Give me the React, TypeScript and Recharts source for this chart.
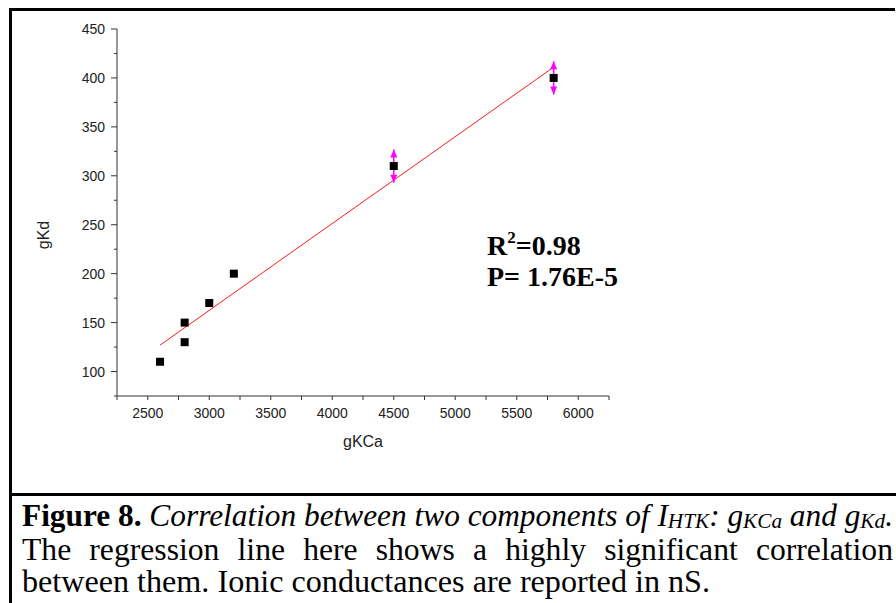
import { ScatterChart, Scatter, XAxis, YAxis, ErrorBar, Label } from 'recharts';

// measured points
const gKCa = [2600, 2800, 2800, 3000, 3200, 4500, 5800];
const gKd = [110, 130, 150, 170, 200, 310, 400];

// points that carry error bars
const errKCa = [4500, 5800];
const errKd = [310, 400];
const errSize = [17, 17];

// regression line ends
const fitKCa = [2600, 5800];
const fitKd = [127, 411];

const xTicks = [2250, 2500, 2750, 3000, 3250, 3500, 3750, 4000, 4250, 4500, 4750, 5000, 5250, 5500, 5750, 6000, 6250];
const xLabels = [2500, 3000, 3500, 4000, 4500, 5000, 5500, 6000];
const yTicks = [75, 100, 125, 150, 175, 200, 225, 250, 275, 300, 325, 350, 375, 400, 425, 450];
const yLabels = [100, 150, 200, 250, 300, 350, 400, 450];

const points = gKCa.map((x, i) => ({ x, y: gKd[i] }));
const errPoints = errKCa.map((x, i) => ({ x, y: errKd[i], err: errSize[i] }));
const arrowUp = errKCa.map((x, i) => ({ x, y: errKd[i] + errSize[i] }));
const arrowDown = errKCa.map((x, i) => ({ x, y: errKd[i] - errSize[i] }));
const fitLine = fitKCa.map((x, i) => ({ x, y: fitKd[i] }));

const TICK_SIZE = 6;
const TICK_MARGIN = 2;
const AXIS_FONT = '"Liberation Sans", Arial, sans-serif';
const SERIF = '"Liberation Serif", "Times New Roman", serif';
const MAGENTA = '#ff00ff';

function XTick(props: any) {
  const { x, y, payload } = props;
  const axisY = y - TICK_SIZE - TICK_MARGIN;
  const major = xLabels.includes(payload.value);
  return (
    <g>
      <line x1={x} x2={x} y1={axisY} y2={axisY + 4} stroke="#333" />
      {major && (
        <text x={x} y={axisY + 22} textAnchor="middle" fontSize={14} fill="#222" fontFamily={AXIS_FONT}>
          {payload.value}
        </text>
      )}
    </g>
  );
}

function YTick(props: any) {
  const { x, y, payload } = props;
  const axisX = x + TICK_SIZE + TICK_MARGIN;
  const major = yLabels.includes(payload.value);
  return (
    <g>
      <line x1={axisX - (major ? 6 : 3)} x2={axisX} y1={y} y2={y} stroke="#333" />
      {major && (
        <text x={axisX - 12} y={y + 5} textAnchor="end" fontSize={14} fill="#222" fontFamily={AXIS_FONT}>
          {payload.value}
        </text>
      )}
    </g>
  );
}

const Square = (p: any) => <rect x={p.cx - 4} y={p.cy - 4} width={8} height={8} fill="#000" />;
const UpHead = (p: any) => <path d={`M${p.cx},${p.cy} L${p.cx - 3.5},${p.cy + 8} L${p.cx + 3.5},${p.cy + 8} Z`} fill={MAGENTA} />;
const DownHead = (p: any) => <path d={`M${p.cx},${p.cy} L${p.cx - 3.5},${p.cy - 8} L${p.cx + 3.5},${p.cy - 8} Z`} fill={MAGENTA} />;
const NoDot = () => <g />;

export default function App() {
  return (
    <div style={{ position: 'fixed', left: 0, top: 0, width: 896, height: 603, background: '#fff', overflow: 'hidden' }}>
      {/* frame */}
      <div style={{ position: 'absolute', left: 9, top: 8, width: 886, height: 3, background: '#000' }} />
      <div style={{ position: 'absolute', left: 9, top: 8, width: 3, height: 595, background: '#000' }} />
      <div style={{ position: 'absolute', left: 9, top: 493, width: 887, height: 3, background: '#000' }} />

      <div style={{ position: 'absolute', left: 0, top: 0 }}>
        <ScatterChart width={896} height={603} margin={{ top: 29, right: 287, bottom: 177, left: 57 }}>
          <XAxis
            type="number"
            dataKey="x"
            domain={[2250, 6250]}
            ticks={xTicks}
            interval={0}
            allowDataOverflow
            height={30}
            tickSize={TICK_SIZE}
            tickMargin={TICK_MARGIN}
            tickLine={false}
            axisLine={{ stroke: '#333' }}
            tick={<XTick />}
          >
            <Label value="gKCa" position="bottom" offset={10} fontSize={16} fill="#222" fontFamily={AXIS_FONT} />
          </XAxis>
          <YAxis
            type="number"
            dataKey="y"
            domain={[75, 450]}
            ticks={yTicks}
            interval={0}
            allowDataOverflow
            width={60}
            tickSize={TICK_SIZE}
            tickMargin={TICK_MARGIN}
            tickLine={false}
            axisLine={{ stroke: '#333' }}
            tick={<YTick />}
          >
            <Label
              content={() => (
                <text x={49} y={235} transform="rotate(-90 49 235)" textAnchor="middle" fontSize={16} fill="#222" fontFamily={AXIS_FONT}>
                  gKd
                </text>
              )}
            />
          </YAxis>
          <Scatter data={fitLine} line={{ stroke: '#ff1a1a', strokeWidth: 1 }} shape={NoDot} isAnimationActive={false} />
          <Scatter data={errPoints} shape={NoDot} isAnimationActive={false}>
            <ErrorBar dataKey="err" direction="y" width={0} stroke={MAGENTA} strokeWidth={1.5} isAnimationActive={false} />
          </Scatter>
          <Scatter data={arrowUp} shape={UpHead} isAnimationActive={false} />
          <Scatter data={arrowDown} shape={DownHead} isAnimationActive={false} />
          <Scatter data={points} shape={Square} isAnimationActive={false} />
        </ScatterChart>
      </div>

      <svg width={896} height={603} style={{ position: 'absolute', left: 0, top: 0, pointerEvents: 'none' }}>
        <text x={487} y={255} fontFamily={SERIF} fontWeight="bold" fontSize={28} fill="#000">
          R<tspan fontSize={17} dy={-12}>2</tspan>
          <tspan dy={12}>=0.98</tspan>
        </text>
        <text x={487} y={286} fontFamily={SERIF} fontWeight="bold" fontSize={28} fill="#000">
          P= 1.76E-5
        </text>

        <text x={22} y={526} fontFamily={SERIF} fontSize={31} fill="#000" textLength={871} lengthAdjust="spacingAndGlyphs">
          <tspan fontWeight="bold">Figure 8. </tspan>
          <tspan fontStyle="italic">Correlation between two components of I</tspan>
          <tspan fontStyle="italic" fontSize={21} dy={2}>HTK</tspan>
          <tspan fontStyle="italic" dy={-2}>: g</tspan>
          <tspan fontStyle="italic" fontSize={21} dy={2}>KCa</tspan>
          <tspan fontStyle="italic" dy={-2}> and g</tspan>
          <tspan fontStyle="italic" fontSize={21} dy={2}>Kd</tspan>
          <tspan fontStyle="italic" dy={-2}>.</tspan>
        </text>
        <text x={22} y={560} fontFamily={SERIF} fontSize={31} fill="#000" wordSpacing={10} textLength={871} lengthAdjust="spacingAndGlyphs">
          The regression line here shows a highly significant correlation
        </text>
        <text x={22} y={592} fontFamily={SERIF} fontSize={31} fill="#000" textLength={688} lengthAdjust="spacingAndGlyphs">
          between them. Ionic conductances are reported in nS.
        </text>
      </svg>
    </div>
  );
}
